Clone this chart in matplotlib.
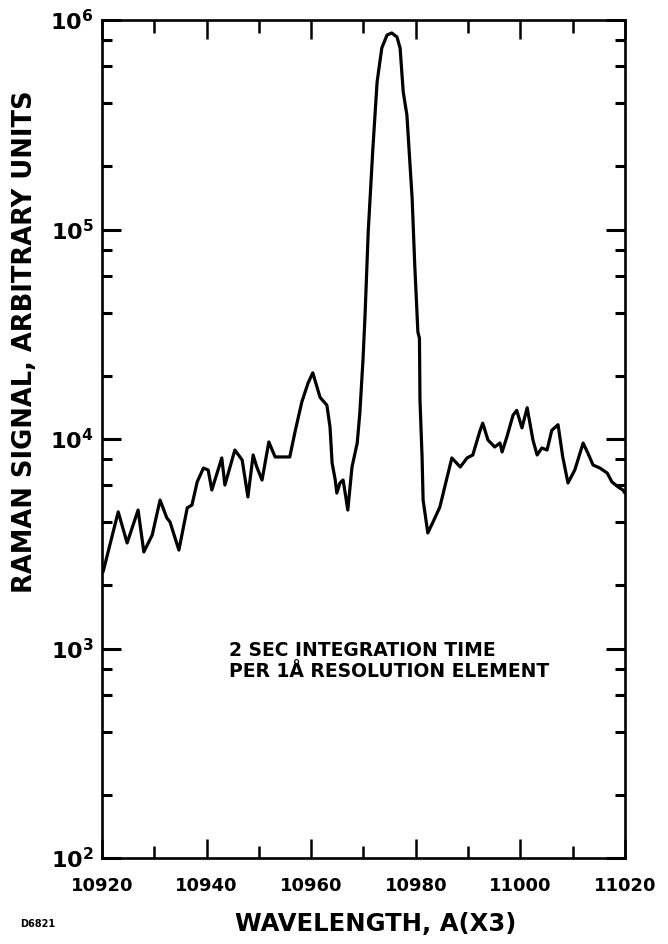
import matplotlib
matplotlib.use("Agg")
import matplotlib.pyplot as plt
from matplotlib.ticker import LogLocator, MultipleLocator, NullFormatter

plt.rcParams['font.family'] = ['DejaVu Sans']
plt.rcParams['font.weight'] = 'bold'
plt.rcParams['mathtext.fontset'] = 'dejavusans'
plt.rcParams['mathtext.default'] = 'bf'

# Raman spectrum: wavelength (A x3) and signal (arb. units)
wavelength = [10920.2, 10923.1, 10924.8, 10926.9, 10928.0, 10929.6, 10931.1, 10932.4,
              10933.0, 10934.7, 10936.3, 10937.2, 10938.2, 10939.4, 10940.3, 10941.0,
              10942.9, 10943.5, 10945.4, 10946.8, 10947.9, 10948.9, 10949.6, 10950.6,
              10951.9, 10953.1, 10954.4, 10955.9, 10956.9, 10958.2, 10959.4, 10960.3,
              10961.7, 10963.0, 10963.6, 10964.0, 10964.6, 10964.9, 10965.5, 10966.1,
              10966.5, 10967.0, 10967.8, 10968.8, 10969.3, 10969.9, 10970.3, 10970.9,
              10971.8, 10972.6, 10973.5, 10974.5, 10975.4, 10976.4, 10977.0, 10977.6,
              10978.3, 10978.9, 10979.3, 10979.8, 10980.4, 10980.7, 10980.8, 10981.2,
              10981.4, 10982.3, 10983.3, 10984.6, 10986.0, 10986.9, 10988.5, 10989.8,
              10990.9, 10992.3, 10992.8, 10993.8, 10995.1, 10996.1, 10996.5, 10997.4,
              10998.6, 10999.3, 11000.3, 11001.3, 11002.4, 11003.2, 11004.1, 11005.1,
              11006.0, 11007.2, 11008.1, 11009.1, 11010.4, 11012.0, 11012.9, 11013.9,
              11015.2, 11016.6, 11017.5, 11018.7, 11019.6, 11020.0]
signal = [2320, 4490, 3190, 4580, 2890, 3480, 5110, 4200,
          4020, 2950, 4690, 4840, 6240, 7270, 7110, 5710,
          8120, 6030, 8860, 7940, 5290, 8390, 7350, 6370,
          9680, 8210, 8210, 8210, 10800, 15000, 18500, 20700,
          15800, 14500, 11400, 7680, 6370, 5520, 6170, 6370,
          5520, 4580, 7350, 9570, 13300, 23800, 39100, 97200,
          245000, 506000, 735000, 848000, 867000, 830000, 735000, 453000,
          352000, 203000, 141000, 67700, 32400, 30300, 15400, 8210,
          5110, 3560, 4020, 4730, 6590, 8120, 7350, 8120,
          8390, 11000, 11900, 9890, 9160, 9570, 8670, 10200,
          13000, 13700, 11300, 14100, 9890, 8390, 9060, 8860,
          11000, 11700, 8210, 6170, 7110, 9570, 8570, 7510,
          7270, 6880, 6240, 5900, 5710, 5520]

x_ticks = [10920, 10940, 10960, 10980, 11000, 11020]
x_ticklabels = ['10920', '10940', '10960', '10980', '11000', '11020']
y_ticks = [1e2, 1e3, 1e4, 1e5, 1e6]
y_ticklabels = [r'$10^{2}$', r'$10^{3}$', r'$10^{4}$', r'$10^{5}$', r'$10^{6}$']

fig = plt.figure(figsize=(6.68, 9.44), dpi=100)
ax = fig.add_axes([0.1527, 0.0911, 0.7829, 0.8877])

ax.plot(wavelength, signal, color='black', linewidth=2.3,
        solid_joinstyle='round', solid_capstyle='round')

ax.set_yscale('log')
ax.set_xlim(10920, 11020)
ax.set_ylim(1e2, 1e6)

ax.set_xticks(x_ticks)
ax.set_xticklabels(x_ticklabels, fontsize=13, fontweight='bold')
ax.xaxis.set_minor_locator(MultipleLocator(10))
ax.set_yticks(y_ticks)
ax.set_yticklabels(y_ticklabels, fontsize=16)
ax.yaxis.set_minor_locator(LogLocator(base=10, subs=[2, 4, 6, 8]))
ax.yaxis.set_minor_formatter(NullFormatter())

ax.tick_params(axis='x', which='major', direction='in', length=14, width=1.8,
               top=True, pad=14)
ax.tick_params(axis='x', which='minor', direction='in', length=9, width=1.8, top=True)
ax.tick_params(axis='y', which='major', direction='in', length=14, width=2.2,
               right=True, pad=6)
ax.tick_params(axis='y', which='minor', direction='in', length=7, width=2.2, right=True)

for s in ax.spines.values():
    s.set_linewidth(1.9)

ax.text(10944.2, 870, '2 SEC INTEGRATION TIME\nPER 1Å RESOLUTION ELEMENT',
        fontsize=13.5, fontweight='bold', ha='left', va='center', linespacing=1.1)

fig.text(0.562, 0.008, 'WAVELENGTH, A(X3)', fontsize=17.5, fontweight='bold',
         ha='center', va='bottom')
fig.text(0.037, 0.638, 'RAMAN SIGNAL, ARBITRARY UNITS', fontsize=18.5, fontweight='bold',
         rotation=90, ha='center', va='center')
fig.text(0.03, 0.016, 'D6821', fontsize=7, fontweight='bold', ha='left', va='bottom')

fig.savefig('out.png', dpi=100)
